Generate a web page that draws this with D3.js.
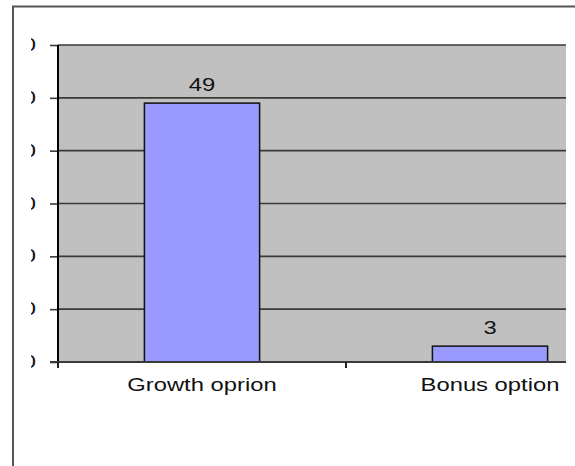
<!DOCTYPE html>
<html>
<head>
<meta charset="utf-8">
<script src="https://cdn.jsdelivr.net/npm/d3@7"></script>
<style>
  html, body { margin: 0; padding: 0; background: #fff; }
  svg { display: block; font-family: "Liberation Sans", Arial, sans-serif; }
</style>
</head>
<body>
<svg id="chart" width="575" height="466"></svg>
<script>
// Chart data
const categories = ["Growth oprion", "Bonus option"];
const values = [49, 3];
const yTicks = [0, 10, 20, 30, 40, 50, 60];

const svg = d3.select("#chart");
const W = 575, H = 466;

// Plot frame
const plot = { left: 58, top: 45, bottom: 362, right: 566, bandRight: 634 };
const stretch = 1.36; // horizontal text stretch
const fontSize = 17.5;

const y = d3.scaleLinear().domain([0, 60]).range([plot.bottom, plot.top]);
const x = d3.scaleBand().domain(categories).range([plot.left, plot.bandRight]).paddingInner(0).paddingOuter(0);
const barW = x.bandwidth() * 0.4;

// Outer chart border
svg.append("rect")
  .attr("x", 13).attr("y", 6.5)
  .attr("width", W + 20).attr("height", H + 20)
  .attr("fill", "none").attr("stroke", "#555").attr("stroke-width", 2);

// Plot background
svg.append("rect")
  .attr("x", plot.left).attr("y", plot.top)
  .attr("width", plot.right - plot.left).attr("height", plot.bottom - plot.top)
  .attr("fill", "#c0c0c0");

// Horizontal gridlines
svg.append("g").selectAll("line")
  .data(yTicks.filter(d => d > 0))
  .join("line")
  .attr("x1", plot.left).attr("x2", plot.right)
  .attr("y1", d => y(d)).attr("y2", d => y(d))
  .attr("stroke", "#3a3a3a").attr("stroke-width", 1.6);

// Bars
svg.append("g").selectAll("rect")
  .data(values)
  .join("rect")
  .attr("x", (d, i) => x(categories[i]) + (x.bandwidth() - barW) / 2)
  .attr("y", d => y(d))
  .attr("width", barW)
  .attr("height", d => plot.bottom - y(d))
  .attr("fill", "#9999ff")
  .attr("stroke", "#111").attr("stroke-width", 1.5);

// Value labels
svg.append("g").selectAll("text")
  .data(values)
  .join("text")
  .attr("transform", (d, i) => `translate(${x(categories[i]) + x.bandwidth() / 2},${y(d) - 12}) scale(${stretch},1)`)
  .attr("text-anchor", "middle")
  .attr("font-size", fontSize)
  .attr("fill", "#111")
  .text(d => d);

// Y axis (labels clipped at the chart's left edge)
const clip = svg.append("defs").append("clipPath").attr("id", "yclip");
clip.append("rect").attr("x", 31).attr("y", 0).attr("width", W).attr("height", H);

const tickSize = 8, tickPad = 14, labelEdge = tickSize + tickPad;
const yAxis = d3.axisLeft(y).tickValues(yTicks).tickSize(tickSize).tickPadding(tickPad).tickFormat(d3.format("d"));
const gy = svg.append("g")
  .attr("clip-path", "url(#yclip)")
  .append("g")
  .attr("transform", `translate(${plot.left},0)`)
  .call(yAxis);
gy.select(".domain").remove();
gy.selectAll(".tick line").attr("stroke", "#3a3a3a").attr("stroke-width", 1.6);
gy.selectAll(".tick text")
  .attr("font-size", fontSize).attr("fill", "#111")
  .attr("font-family", "Liberation Sans, Arial, sans-serif")
  .attr("transform", `translate(${-labelEdge},0) scale(${stretch},1) translate(${labelEdge},0)`);

svg.append("line")
  .attr("x1", plot.left).attr("x2", plot.left)
  .attr("y1", plot.top).attr("y2", plot.bottom + 6)
  .attr("stroke", "#000").attr("stroke-width", 2);

// X axis
svg.append("line")
  .attr("x1", plot.left - 8).attr("x2", plot.right)
  .attr("y1", plot.bottom).attr("y2", plot.bottom)
  .attr("stroke", "#3a3a3a").attr("stroke-width", 2);

const boundaries = categories.map(c => x(c)).concat([x.range()[1]]);
svg.append("g").selectAll("line")
  .data(boundaries.filter(b => b <= plot.right))
  .join("line")
  .attr("x1", d => d).attr("x2", d => d)
  .attr("y1", plot.bottom).attr("y2", plot.bottom + 6)
  .attr("stroke", "#222").attr("stroke-width", 2);

svg.append("g").selectAll("text")
  .data(categories)
  .join("text")
  .attr("transform", d => `translate(${x(d) + x.bandwidth() / 2},391) scale(${stretch},1)`)
  .attr("text-anchor", "middle")
  .attr("font-size", fontSize)
  .attr("fill", "#111")
  .text(d => d);
</script>
</body>
</html>
